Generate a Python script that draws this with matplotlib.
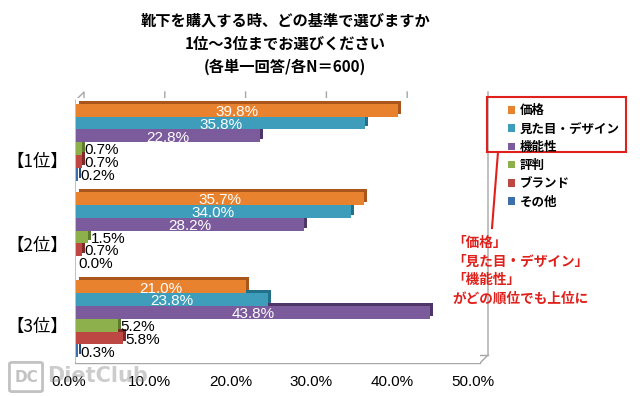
import numpy as np
import matplotlib
matplotlib.use("Agg")
import matplotlib.pyplot as plt
from matplotlib import font_manager
from matplotlib.transforms import offset_copy, IdentityTransform, ScaledTranslation
from matplotlib.lines import Line2D
from matplotlib.patches import Rectangle, FancyBboxPatch

installed = {f.name for f in font_manager.fontManager.ttflist}
narrow = 'Liberation Sans Narrow' in installed
num_family = ['Liberation Sans Narrow'] if narrow else ['Liberation Sans']
num_size = 12 if narrow else 11
plt.rcParams['font.family'] = num_family + ['Noto Sans CJK JP', 'DejaVu Sans']

# ---- データ ----
categories = ['【1位】', '【2位】', '【3位】']
series = ['価格', '見た目・デザイン', '機能性', '評判', 'ブランド', 'その他']
price = [39.8, 35.7, 21.0]
looks = [35.8, 34.0, 23.8]
function = [22.8, 28.2, 43.8]
reputation = [0.7, 1.5, 5.2]
brand = [0.7, 0.7, 5.8]
other = [0.2, 0.0, 0.3]
xticks = [0, 10, 20, 30, 40, 50]
xtick_labels = ['0.0%', '10.0%', '20.0%', '30.0%', '40.0%', '50.0%']

title = '靴下を購入する時、どの基準で選びますか\n1位～3位までお選びください\n(各単一回答/各N＝600)'
note = '「価格」\n「見た目・デザイン」\n「機能性」\nがどの順位でも上位に'

colors = ['#E8822F', '#3D9DBA', '#7B5B9B', '#8DB04C', '#BC4743', '#3F6FA8']
dark = ['#A9561A', '#23708A', '#4E3768', '#5D7B2C', '#7E2A27', '#274A78']
red = '#E0201B'

W, H = 640, 396
fig = plt.figure(figsize=(W / 100, H / 100), dpi=100)
ax = fig.add_axes([76 / W, 1 - 363 / H, (480 - 76) / W, (363 - 98) / H])
ax.set_xlim(0, 50)
ax.set_ylim(2.5, -0.5)

values = [price, looks, function, reputation, brand, other]
y = np.arange(len(categories))
h = 0.145
shadow_tr = offset_copy(ax.transData, fig=fig, x=3, y=3, units='dots')

handles = []
for i, vals in enumerate(values):
    pos = y - 2.5 * h + i * h
    ax.barh(pos, vals, height=h, color=dark[i], transform=shadow_tr, zorder=2)
    bars = ax.barh(pos, vals, height=h, color=colors[i], zorder=3, label=series[i])
    handles.append(bars)
    for p, v in zip(pos, vals):
        if v >= 10:
            ax.text(v / 2, p + 0.02, f'{v:.1f}%', color='white', fontsize=num_size,
                    ha='center', va='center', zorder=5)
        else:
            ax.text(v + 0.3, p + 0.02, f'{v:.1f}%', color='black', fontsize=num_size,
                    ha='left', va='center', zorder=5)

# 3D風の壁と床
grid_c = '#A6A6A6'
dx, dy = 8, 8
tr = ax.get_xaxis_transform()
for t in xticks:
    x0, y0 = tr.transform((t, 0))
    x1, y1 = tr.transform((t, 1))
    xs = [x0, x0 + dx, x1 + dx] if t > 0 else [x0, x0 + dx, x1 + dx, x1, x0]
    ys = [y0, y0 + dy, y1 + dy - 2] if t > 0 else [y0, y0 + dy, y1 + dy - 2, y1 - 2, y0]
    fig.add_artist(Line2D(xs, ys, color=grid_c, lw=1, transform=IdentityTransform(), zorder=0))
fx0, fy0 = tr.transform((0, 0))
fx1, fy1 = tr.transform((50, 0))
fig.add_artist(Line2D([fx0, fx1], [fy0, fy1], color=grid_c, lw=1, transform=IdentityTransform(), zorder=0))
fig.add_artist(Line2D([fx0 + dx, fx1 + dx], [fy0 + dy, fy1 + dy], color=grid_c, lw=1,
                      transform=IdentityTransform(), zorder=0))

for s in ax.spines.values():
    s.set_visible(False)
ax.set_xticks(xticks)
ax.set_xticklabels(xtick_labels, fontsize=num_size)
ax.tick_params(axis='x', length=0, pad=9)
for lbl in ax.get_xticklabels():
    lbl.set_transform(lbl.get_transform() + ScaledTranslation(-5 / 72, 0, fig.dpi_scale_trans))
label_shift = [0.2, 0.15, 0.07]
ax.set_yticks(y + np.array(label_shift))
ax.set_yticklabels(categories, fontsize=12.5, family=['Noto Sans CJK JP'])
ax.tick_params(axis='y', length=0, pad=6)

fig.text(285 / W, 1 - 13 / H, title, ha='center', va='top', fontsize=11,
         fontweight='bold', linespacing=1.5, family=['Noto Sans CJK JP'])

leg = fig.legend(handles=handles, labels=series, loc='upper left',
                 bbox_to_anchor=(502 / W, 1 - 98 / H), frameon=False, borderpad=0,
                 handlelength=0.55, handleheight=0.55, handletextpad=0.35, labelspacing=0.42,
                 prop={'family': 'Noto Sans CJK JP', 'weight': 'bold', 'size': 9})

fig.add_artist(Rectangle((487 / W, 1 - 152 / H), 139 / W, 55 / H, transform=fig.transFigure,
                         fill=False, ec=red, lw=1.5))
fig.add_artist(Line2D([498 / W, 492 / W], [1 - 152 / H, 1 - 228 / H], color=red, lw=1.5,
                      transform=fig.transFigure))
fig.text(452 / W, 1 - 236 / H, note, ha='left', va='top', color=red, fontsize=9.8,
         fontweight='bold', linespacing=1.42, family=['Noto Sans CJK JP'])

# ウォーターマーク
fig.add_artist(FancyBboxPatch((12 / W, 1 - 390 / H), 28 / W, 26 / H, transform=fig.transFigure,
                              boxstyle='round,pad=0.004', fill=False, ec='#9A9A9A', lw=2, alpha=0.6))
fig.text(26 / W, 1 - 377 / H, 'DC', ha='center', va='center', fontsize=11, fontweight='bold',
         color='#9A9A9A', alpha=0.6, family=['DejaVu Sans'])
fig.text(47 / W, 1 - 376 / H, 'DietClub', ha='left', va='center', fontsize=15, fontweight='bold',
         color='#9A9A9A', alpha=0.5, family=['DejaVu Sans'])

fig.savefig('out.png', dpi=100)
